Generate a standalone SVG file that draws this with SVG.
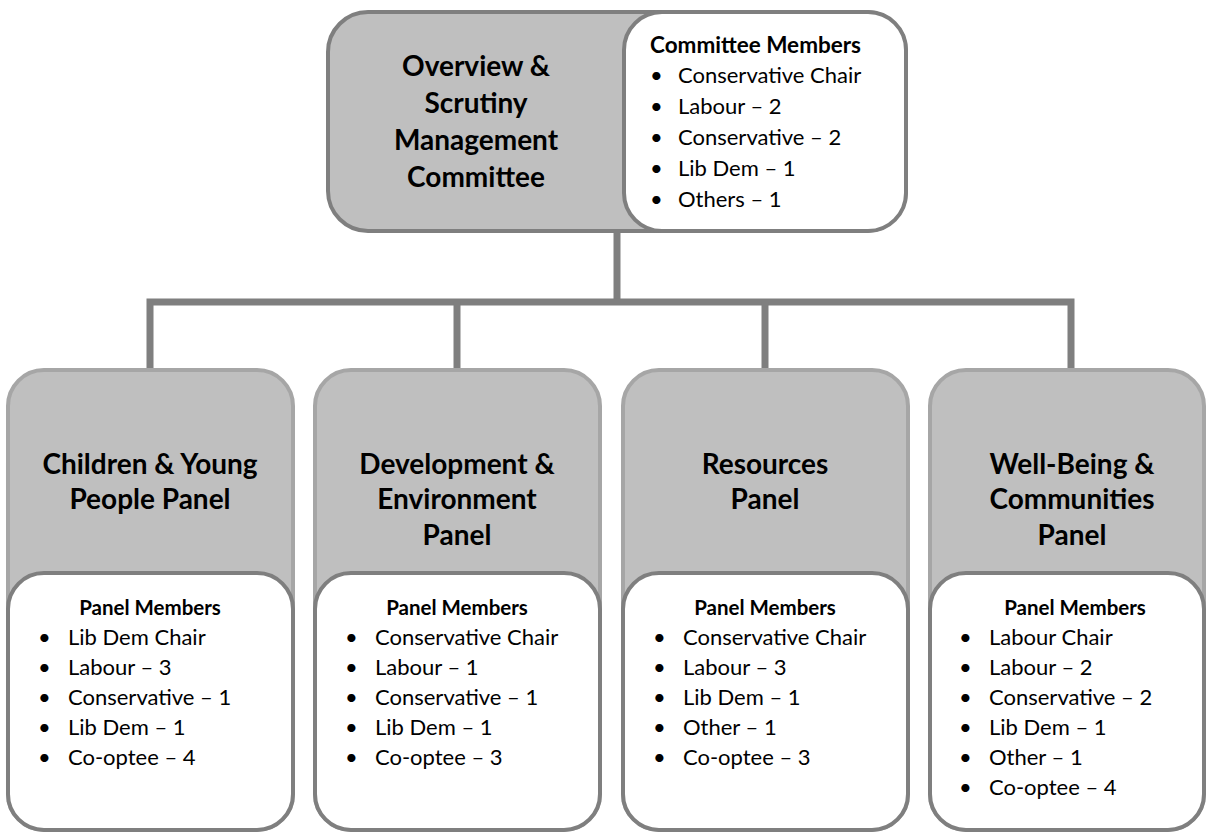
<svg xmlns="http://www.w3.org/2000/svg" width="1207" height="832" viewBox="0 0 1207 832">
<style>
.gray{fill:#BFBFBF;stroke:#7F7F7F;stroke-width:4}
.panel{fill:#BFBFBF;stroke:#A6A6A6;stroke-width:4}
.white{fill:#FFFFFF;stroke:#7F7F7F;stroke-width:4}
.conn{fill:none;stroke:#7F7F7F;stroke-width:7}
.title{font-family:Lato,"Liberation Sans",sans-serif;font-weight:bold;font-size:28px;fill:#000;text-anchor:middle}
.head{font-family:Lato,"Liberation Sans",sans-serif;font-weight:bold;font-size:20.5px;fill:#000;text-anchor:middle}
.tophead{font-family:Lato,"Liberation Sans",sans-serif;font-weight:bold;font-size:22.5px;fill:#000}
.item{font-family:Lato,"Liberation Sans",sans-serif;font-size:22px;fill:#000}
</style>
<rect width="1207" height="832" fill="#FFFFFF"/>
<g id="connectors">
<path class="conn" d="M617 231 V302"/>
<path class="conn" d="M150 370 V302 H1071 V370"/>
<path class="conn" d="M457 302 V370"/>
<path class="conn" d="M765 302 V370"/>
</g>
<g id="top">
<rect class="gray" x="328" y="12" width="578" height="219" rx="40"/>
<rect class="white" x="624" y="12" width="282" height="219" rx="38"/>
<text class="title" x="476" y="76">Overview &amp;</text>
<text class="title" x="476" y="113">Scrutiny</text>
<text class="title" x="476" y="150">Management</text>
<text class="title" x="476" y="187">Committee</text>
<text class="tophead" x="650" y="53">Committee Members</text>
<g class="item">
<text x="650" y="83">•</text><text x="678" y="83">Conservative Chair</text>
<text x="650" y="114">•</text><text x="678" y="114">Labour – 2</text>
<text x="650" y="145">•</text><text x="678" y="145">Conservative – 2</text>
<text x="650" y="176">•</text><text x="678" y="176">Lib Dem – 1</text>
<text x="650" y="207">•</text><text x="678" y="207">Others – 1</text>
</g>
</g>
<g id="panel1">
<rect class="panel" x="8" y="370" width="285" height="460" rx="36"/>
<rect class="white" x="8" y="573" width="285" height="257" rx="36"/>
<text class="title" x="150" y="474">Children &amp; Young</text>
<text class="title" x="150" y="509">People Panel</text>
<text class="head" x="150" y="615">Panel Members</text>
<g class="item">
<text x="38" y="645">•</text><text x="68" y="645">Lib Dem Chair</text>
<text x="38" y="675">•</text><text x="68" y="675">Labour – 3</text>
<text x="38" y="705">•</text><text x="68" y="705">Conservative – 1</text>
<text x="38" y="735">•</text><text x="68" y="735">Lib Dem – 1</text>
<text x="38" y="765">•</text><text x="68" y="765">Co-optee – 4</text>
</g>
</g>
<g id="panel2">
<rect class="panel" x="315" y="370" width="285" height="460" rx="36"/>
<rect class="white" x="315" y="573" width="285" height="257" rx="36"/>
<text class="title" x="457" y="474">Development &amp;</text>
<text class="title" x="457" y="509">Environment</text>
<text class="title" x="457" y="545">Panel</text>
<text class="head" x="457" y="615">Panel Members</text>
<g class="item">
<text x="345" y="645">•</text><text x="375" y="645">Conservative Chair</text>
<text x="345" y="675">•</text><text x="375" y="675">Labour – 1</text>
<text x="345" y="705">•</text><text x="375" y="705">Conservative – 1</text>
<text x="345" y="735">•</text><text x="375" y="735">Lib Dem – 1</text>
<text x="345" y="765">•</text><text x="375" y="765">Co-optee – 3</text>
</g>
</g>
<g id="panel3">
<rect class="panel" x="623" y="370" width="285" height="460" rx="36"/>
<rect class="white" x="623" y="573" width="285" height="257" rx="36"/>
<text class="title" x="765" y="474">Resources</text>
<text class="title" x="765" y="509">Panel</text>
<text class="head" x="765" y="615">Panel Members</text>
<g class="item">
<text x="653" y="645">•</text><text x="683" y="645">Conservative Chair</text>
<text x="653" y="675">•</text><text x="683" y="675">Labour – 3</text>
<text x="653" y="705">•</text><text x="683" y="705">Lib Dem – 1</text>
<text x="653" y="735">•</text><text x="683" y="735">Other – 1</text>
<text x="653" y="765">•</text><text x="683" y="765">Co-optee – 3</text>
</g>
</g>
<g id="panel4">
<rect class="panel" x="930" y="370" width="274" height="460" rx="36"/>
<rect class="white" x="930" y="573" width="274" height="257" rx="36"/>
<text class="title" x="1072" y="474">Well-Being &amp;</text>
<text class="title" x="1072" y="509">Communities</text>
<text class="title" x="1072" y="545">Panel</text>
<text class="head" x="1075" y="615">Panel Members</text>
<g class="item">
<text x="959" y="645">•</text><text x="989" y="645">Labour Chair</text>
<text x="959" y="675">•</text><text x="989" y="675">Labour – 2</text>
<text x="959" y="705">•</text><text x="989" y="705">Conservative – 2</text>
<text x="959" y="735">•</text><text x="989" y="735">Lib Dem – 1</text>
<text x="959" y="765">•</text><text x="989" y="765">Other – 1</text>
<text x="959" y="795">•</text><text x="989" y="795">Co-optee – 4</text>
</g>
</g>
</svg>
